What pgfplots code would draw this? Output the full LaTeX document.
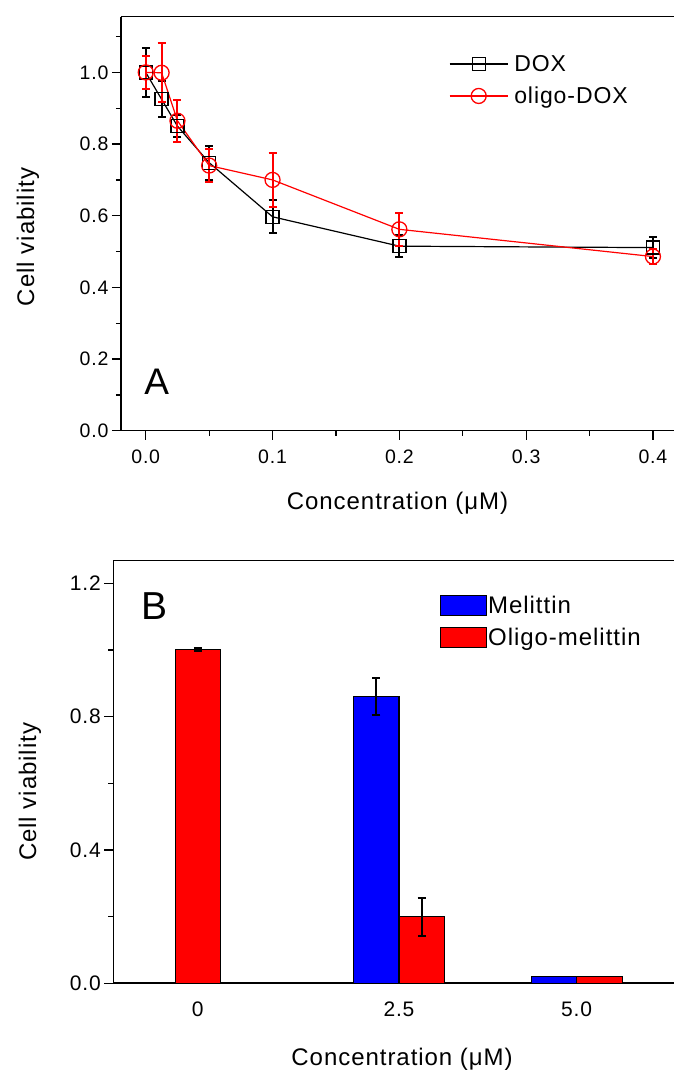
\documentclass[border=0pt]{standalone}
\usepackage{fontspec}
\setmainfont{Liberation Sans}[LetterSpace=4]
\usepackage{pgfplots}
\pgfplotsset{compat=1.18}

\pgfplotstableread{
x      y      e
0      1.000  0.068
0.0125 0.925  0.050
0.025  0.850  0.030
0.05   0.748  0.047
0.1    0.597  0.046
0.2    0.515  0.030
0.4    0.511  0.030
}\dox
\pgfplotstableread{
x      y      e
0      1.000  0.047
0.0125 0.999  0.082
0.025  0.865  0.058
0.05   0.740  0.047
0.1    0.700  0.075
0.2    0.562  0.046
0.4    0.486  0.020
}\oligodox

\begin{document}
\begin{tikzpicture}
\useasboundingbox (0,0) rectangle (675pt,1070pt);
% ---------------- Panel A ----------------
\begin{axis}[
  at={(120.9pt,639.3pt)}, anchor=south west, scale only axis,
  width=553.1pt, height=414pt,
  xmin=-0.0196, xmax=0.4166, ymin=0, ymax=1.1555,
  axis x line*=bottom, axis y line*=left,
  axis line style={line width=1.6pt, black},
  xtick={0,0.1,0.2,0.3,0.4}, minor xtick={0.05,0.15,0.25,0.35},
  ytick={0,0.2,0.4,0.6,0.8,1.0}, minor ytick={0.1,0.3,0.5,0.7,0.9,1.1},
  tick align=outside, major tick length=9pt, minor tick length=5pt,
  tick style={line width=1.3pt, black},
  /pgf/number format/.cd, fixed, fixed zerofill, precision=1, assume math mode=true, /pgfplots/.cd,
  ticklabel style={font=\fontsize{19.5}{22}\selectfont},
  xticklabel style={yshift=-7pt},
  xlabel={Concentration (μM)},
  xlabel style={at={(axis description cs:0.5,0)}, anchor=center, yshift=-73pt, font=\fontsize{24}{27}\selectfont},
  ylabel={Cell viability},
  ylabel style={at={(axis description cs:-0.168,0.468)}, anchor=center, font=\fontsize{24}{27}\selectfont},
  legend style={at={(axis description cs:0.593,0.912)}, anchor=north west, draw=none, fill=none,
    font=\fontsize{23}{26}\selectfont, row sep=10pt, inner sep=0pt, nodes={inner sep=2pt}},
  legend cell align=left,
  legend image code/.code={\draw[mark repeat=2,mark phase=2,#1] plot coordinates {(0pt,0pt) (29pt,0pt) (58pt,0pt)};},
  after end axis/.code={\draw[line width=1.6pt, black] (rel axis cs:0,1) -- (rel axis cs:1,1);},
]
\addplot[black, line width=1.2pt, mark=square, mark size=6.5pt,
  mark options={solid, fill=white, line width=1.3pt},
  error bars/.cd, y dir=both, y explicit,
  error bar style={line width=2pt, black, solid},
  error mark options={rotate=90, black, mark size=4pt, line width=2pt}]
  table[x=x, y=y, y error=e] {\dox};
\addlegendentry{\hspace{4pt}DOX}
\addplot[red, line width=1.2pt, mark=o, mark size=7.5pt,
  mark options={solid, fill=white, line width=1.3pt},
  error bars/.cd, y dir=both, y explicit,
  error bar style={line width=2pt, red, solid},
  error mark options={rotate=90, red, mark size=4pt, line width=2pt}]
  table[x=x, y=y, y error=e] {\oligodox};
\addlegendentry{\hspace{4pt}oligo-DOX}
\node[font=\fontsize{37}{40}\selectfont] at (axis description cs:0.0647,0.118) {A};
\end{axis}
% ---------------- Panel B ----------------
\begin{axis}[
  at={(113.3pt,86.7pt)}, anchor=south west, scale only axis,
  width=560.7pt, height=422.6pt,
  xmin=-0.42, xmax=2.367, ymin=0, ymax=1.268,
  axis x line*=bottom, axis y line*=left,
  axis line style={line width=1.6pt, black},
  xtick={0,1,1.883}, xticklabels={0,2.5,5.0},
  major x tick style={draw=none},
  ytick={0,0.4,0.8,1.2}, minor ytick={0.2,0.6,1.0},
  tick align=outside, major tick length=9pt, minor tick length=5pt,
  tick style={line width=1.3pt, black},
  /pgf/number format/.cd, fixed, fixed zerofill, precision=1, assume math mode=true, /pgfplots/.cd,
  ticklabel style={font=\fontsize{21}{24}\selectfont},
  xticklabel style={yshift=-6pt},
  xlabel={Concentration (μM)},
  xlabel style={at={(axis description cs:0.515,0)}, anchor=center, yshift=-76pt, font=\fontsize{24}{27}\selectfont},
  ylabel={Cell viability},
  ylabel style={at={(axis description cs:-0.1486,0.453)}, anchor=center, font=\fontsize{24}{27}\selectfont},
  legend style={at={(axis description cs:0.583,0.919)}, anchor=north west, draw=none, fill=none,
    font=\fontsize{24}{27}\selectfont, row sep=11pt, inner sep=0pt, nodes={inner sep=1pt}},
  legend cell align=left,
  after end axis/.code={\draw[line width=1.6pt, black] (rel axis cs:0,1) -- (rel axis cs:1,1);},
]
\addplot[ybar, bar width=0.226, bar shift=0pt, fill=blue, draw=black, line width=1.1pt,
  legend image code/.code={\draw[fill=blue, draw=black, line width=1.1pt] (0pt,-10pt) rectangle (45.7pt,10pt);},
  error bars/.cd, y dir=both, y explicit,
  error bar style={black, line width=1.8pt},
  error mark options={rotate=90, black, mark size=4pt, line width=1.8pt}]
  coordinates {(0.887,0.861) +- (0,0.055)};
\addlegendentry{Melittin}
\addplot[ybar, bar width=0.226, bar shift=0pt, fill=red, draw=black, line width=1.1pt,
  legend image code/.code={\draw[fill=red, draw=black, line width=1.1pt] (0pt,-10pt) rectangle (45.7pt,10pt);},
  error bars/.cd, y dir=both, y explicit,
  error bar style={black, line width=1.8pt},
  error mark options={rotate=90, black, mark size=4pt, line width=1.8pt}]
  coordinates {(0,1.002) +- (0,0.004) (1.113,0.200) +- (0,0.057)};
\addlegendentry{Oligo-melittin}
\addplot[ybar, bar width=0.226, bar shift=0pt, fill=blue, draw=black, line width=1.1pt, forget plot]
  coordinates {(1.770,0.02)};
\addplot[ybar, bar width=0.226, bar shift=0pt, fill=red, draw=black, line width=1.1pt, forget plot]
  coordinates {(1.996,0.02)};
\node[font=\fontsize{39}{42}\selectfont] at (axis description cs:0.0726,0.893) {B};
\end{axis}
\end{tikzpicture}
\end{document}
